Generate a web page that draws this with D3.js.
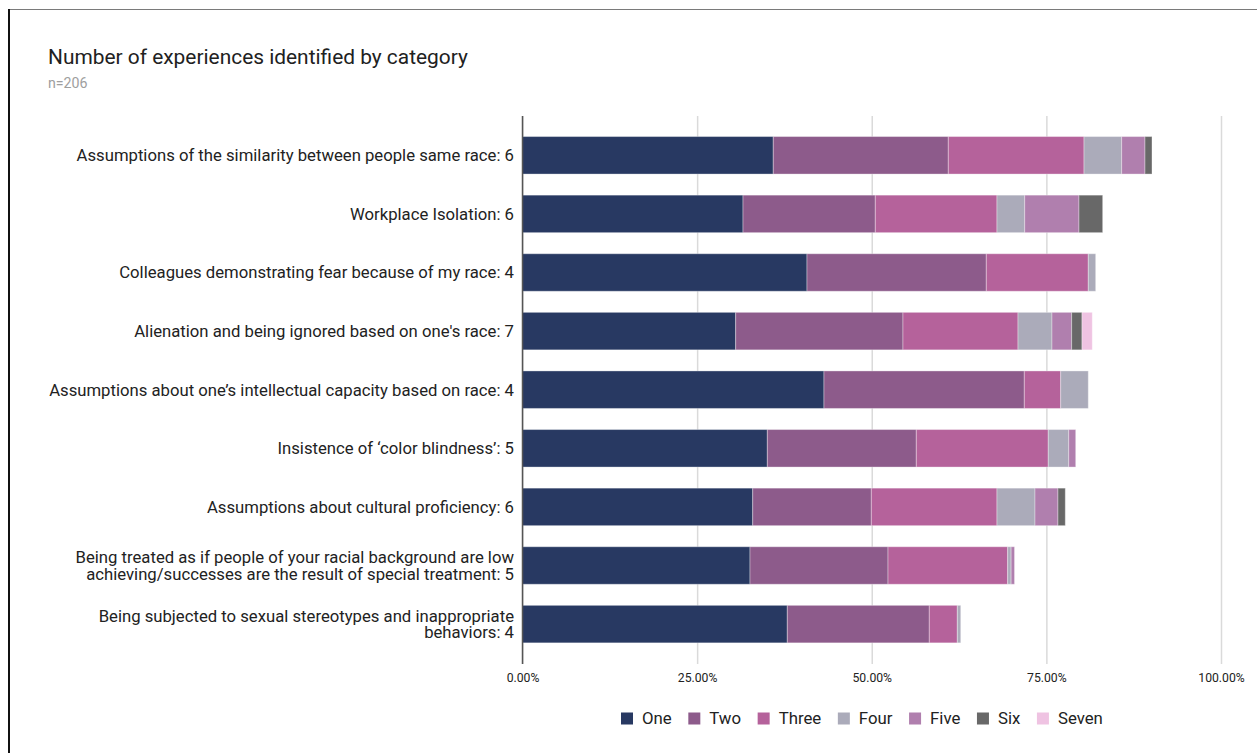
<!DOCTYPE html>
<html>
<head>
<meta charset="utf-8">
<script src="https://cdn.jsdelivr.net/npm/d3@7"></script>
<style>
  html, body { margin: 0; padding: 0; background: #fff; }
  svg { display: block; font-family: Roboto, "Noto Sans", sans-serif; }
</style>
</head>
<body>
<svg id="chart" width="1257" height="753"></svg>
<script>
// Experience categories (two-line labels split on "\n")
const categories = [
  "Assumptions of the similarity between people same race: 6",
  "Workplace Isolation: 6",
  "Colleagues demonstrating fear because of my race: 4",
  "Alienation and being ignored based on one's race: 7",
  "Assumptions about one\u2019s intellectual capacity based on race: 4",
  "Insistence of \u2018color blindness\u2019: 5",
  "Assumptions about cultural proficiency: 6",
  "Being treated as if people of your racial background are low\nachieving/successes are the result of special treatment: 5",
  "Being subjected to sexual stereotypes and inappropriate\nbehaviors: 4"
];

// Share of respondents (%) per number of experiences, one array per series
const seriesNames = ["One", "Two", "Three", "Four", "Five", "Six", "Seven"];
const one   = [35.90, 31.57, 40.73, 30.52, 43.16, 35.05, 32.96, 32.57, 37.91];
const two   = [25.06, 18.94, 25.67, 23.95, 28.68, 21.33, 16.98, 19.76, 20.33];
const three = [19.43, 17.42, 14.60, 16.47,  5.21, 18.89, 17.99, 17.13,  4.01];
const four  = [ 5.39,  3.97,  1.06,  4.86,  3.95,  2.93,  5.44,  0.49,  0.49];
const five  = [ 3.34,  7.77,  0,     2.82,  0,     1.00,  3.29,  0.49,  0   ];
const six   = [ 1.00,  3.39,  0,     1.48,  0,     0,     1.05,  0,     0   ];
const seven = [ 0,     0,     0,     1.47,  0,     0,     0,     0,     0   ];
const seriesValues = [one, two, three, four, five, six, seven];
const seriesColors = ["#283962", "#8d5b8b", "#b5629b", "#ababba", "#b07fae", "#686868", "#efc3e2"];

const tickValues = [0, 0.25, 0.5, 0.75, 1];

const title = "Number of experiences identified by category";
const subtitle = "n=206";

// ---- build table for stacking ----
const rows = categories.map((c, i) => {
  const r = { category: c };
  seriesNames.forEach((s, j) => { r[s] = seriesValues[j][i] / 100; });
  return r;
});
const stacked = d3.stack().keys(seriesNames)(rows);

const svg = d3.select("#chart");

// frame
svg.append("rect").attr("x", 0).attr("y", 0).attr("width", 1257).attr("height", 753).attr("fill", "#fff");
svg.append("line").attr("x1", 9).attr("x2", 1257).attr("y1", 9.5).attr("y2", 9.5)
  .attr("stroke", "#7a7a7a").attr("stroke-width", 1);
svg.append("line").attr("x1", 9).attr("x2", 9).attr("y1", 9).attr("y2", 753)
  .attr("stroke", "#111").attr("stroke-width", 2);

// titles
svg.append("text").attr("x", 48).attr("y", 64).attr("font-size", 20.9).attr("fill", "#212121").text(title);
svg.append("text").attr("x", 48).attr("y", 88).attr("font-size", 14.2).attr("fill", "#9e9e9e").text(subtitle);

// scales
const x = d3.scaleLinear().domain([0, 1]).range([522.5, 1221]);
const y = d3.scaleBand().domain(categories).range([126, 653.4]).paddingInner(0.36).paddingOuter(0.18);
const gridTop = 116, gridBottom = 664;

// gridlines + tick labels
const xAxis = d3.axisBottom(x).tickValues(tickValues).tickFormat(d3.format(".2%"))
  .tickSize(-(gridBottom - gridTop)).tickPadding(9);
const gx = svg.append("g").attr("transform", `translate(0,${gridBottom})`).call(xAxis);
gx.select(".domain").remove();
gx.selectAll(".tick line").attr("stroke", "#dadada").attr("stroke-width", 1.5);
gx.selectAll(".tick text").attr("font-size", 12.2).attr("fill", "#222")
  .attr("font-family", "Roboto, sans-serif").attr("dy", "0.71em");

// bars
svg.append("g").selectAll("g").data(stacked).join("g")
  .attr("fill", (d, i) => seriesColors[i])
  .selectAll("rect").data(d => d.filter(p => p[1] - p[0] > 0)).join("rect")
  .attr("x", d => x(d[0]))
  .attr("y", d => y(d.data.category))
  .attr("width", d => x(d[1]) - x(d[0]))
  .attr("height", y.bandwidth())
  .attr("stroke", "rgba(255,255,255,0.35)")
  .attr("stroke-width", 1);

// baseline (zero axis)
svg.append("line").attr("x1", x(0)).attr("x2", x(0)).attr("y1", gridTop).attr("y2", gridBottom)
  .attr("stroke", "#555").attr("stroke-width", 1.5);

// category labels
const lab = svg.append("g").selectAll("text").data(categories).join("text")
  .attr("x", 514)
  .attr("text-anchor", "end")
  .attr("font-size", 16.7)
  .attr("fill", "#222");
lab.each(function(c) {
  const lines = c.split("\n");
  const cy = y(c) + y.bandwidth() / 2;
  const lh = 16.8;
  const t = d3.select(this);
  lines.forEach((ln, k) => {
    t.append("tspan").attr("x", 514)
      .attr("y", cy + (k - (lines.length - 1) / 2) * lh)
      .attr("dy", "0.35em").text(ln);
  });
});

// legend
const legend = svg.append("g").attr("font-size", 16.8).attr("fill", "#222");
const items = legend.selectAll("g").data(seriesNames).join("g");
items.append("rect").attr("width", 12).attr("height", 12).attr("y", -6)
  .attr("fill", (d, i) => seriesColors[i]);
items.append("text").attr("x", 21).attr("dy", "0.35em").text(d => d);
const widths = [];
items.each(function() {
  widths.push(21 + d3.select(this).select("text").node().getComputedTextLength());
});
const gap = 16.6;
let start = 621;
items.attr("transform", (d, i) => {
  const tx = start;
  start += widths[i] + gap;
  return `translate(${tx},718.5)`;
});
</script>
</body>
</html>
